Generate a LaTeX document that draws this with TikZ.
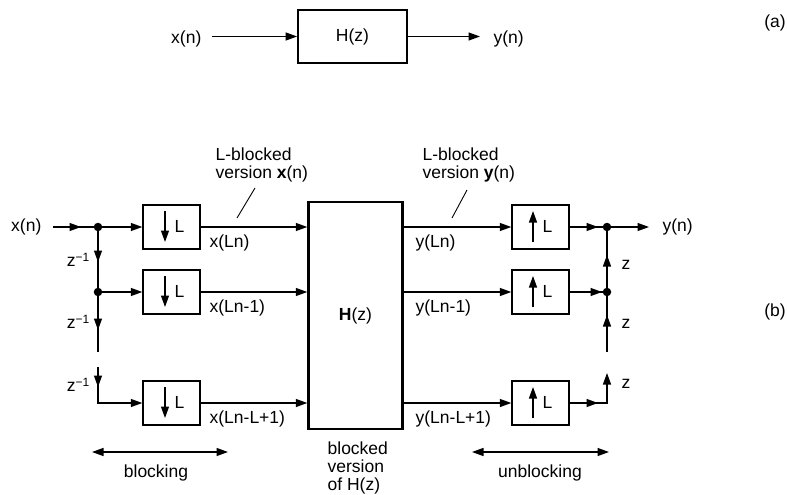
\documentclass[tikz,border=0pt]{standalone}
\usepackage{fontspec}
\setmainfont{Liberation Sans}
\usetikzlibrary{arrows.meta,calc}
\newcommand\zinvlbl{z\raisebox{5.5pt}{\fontsize{12}{12}\selectfont −1}}
\begin{document}
\begin{tikzpicture}[x=1pt,y=-1pt,font=\fontsize{17.5}{18}\selectfont,line width=1.3pt,
  arr/.style={-{Triangle[length=11.5pt,width=8pt]}},
  darr/.style={{Triangle[length=11.5pt,width=8pt]}-{Triangle[length=11.5pt,width=8pt]}},
  txt/.style={inner sep=0pt},
  blkbox/.style={draw,line width=1.4pt,minimum width=57pt,minimum height=44pt,inner sep=0pt},
  dot/.style={circle,fill,inner sep=0pt,minimum size=8.5pt}]
\useasboundingbox (0,0) rectangle (787,495);

% ---------- (a) ----------
\node[draw,line width=1.8pt,minimum width=109pt,minimum height=53pt,inner sep=0pt] (Ha) at (352.5,36.5) {H(z)};
\node[txt,anchor=east] (xa) at (202,38.5) {x(n)};
\node[txt,anchor=west] (ya) at (493,38.5) {y(n)};
\coordinate (xas) at (212,36.5);
\coordinate (yae) at (480,36.5);
\draw[arr] (xas) -- (Ha.west);
\draw[arr] (Ha.east) -- (yae);
\node[txt] (la) at (775,23) {(a)};

% ---------- (b) left ----------
\node[txt,anchor=east] (xb) at (42,227) {x(n)};
\node[dot] (d1) at (98,227) {};
\node[dot] (d2) at (98,292) {};
\coordinate (l2) at (98,352);
\coordinate (l3) at (98,367);
\coordinate (c3) at (98,403);
\node[blkbox] (D1) at (171.5,227) {};
\node[blkbox] (D2) at (171.5,292) {};
\node[blkbox] (D3) at (171.5,403) {};

\draw ([xshift=11pt]xb.east) -- (d1.center);
\draw[arr] ([xshift=11pt]xb.east) -- ([xshift=-17pt]d1.center);
\draw[arr] (d1.center) -- (D1.west);
\draw[arr] (d2.center) -- (D2.west);
\draw (d1.center) -- (l2);
\draw[arr] (d1.center) -- ($(d1.center)+(0,35)$);
\draw[arr] (d2.center) -- ($(d2.center)+(0,38)$);
\draw[arr] (l3) -- (c3) -- (D3.west);
\draw[arr] (l3) -- ($(l3)+(0,20)$);

\node[txt] (zi1) at (78,260) {\zinvlbl};
\node[txt] (zi2) at (78,322) {\zinvlbl};
\node[txt] (zi3) at (78,385) {\zinvlbl};

\foreach \b in {D1,D2,D3}{
  \draw[arr] ($(\b.center)+(-6.5,-16)$) -- ($(\b.center)+(-6.5,15)$);
  \node[txt] (\b L) at ($(\b.center)+(8,-1)$) {L};
}

% ---------- big box ----------
\node[draw,line width=2.4pt,minimum width=94pt,minimum height=227pt,inner sep=0pt] (B) at (355.5,315.5) {\textbf{H}(z)};

\draw[arr] (D1.east) -- (B.west |- D1.east);
\draw[arr] (D2.east) -- (B.west |- D2.east);
\draw[arr] (D3.east) -- (B.west |- D3.east);
\node[txt,anchor=north west] (lx1) at (209,234) {x(Ln)};
\node[txt,anchor=north west] (lx2) at (209,299) {x(Ln-1)};
\node[txt,anchor=north west] (lx3) at (209,410) {x(Ln-L+1)};

% ---------- (b) right ----------
\node[blkbox] (U1) at (540.5,227) {};
\node[blkbox] (U2) at (540.5,292) {};
\node[blkbox] (U3) at (540.5,403) {};
\draw[arr] (B.east |- U1.west) -- (U1.west);
\draw[arr] (B.east |- U2.west) -- (U2.west);
\draw[arr] (B.east |- U3.west) -- (U3.west);
\node[txt,anchor=north west] (ly1) at (415,234) {y(Ln)};
\node[txt,anchor=north west] (ly2) at (415,299) {y(Ln-1)};
\node[txt,anchor=north west] (ly3) at (415,410) {y(Ln-L+1)};

\foreach \b in {U1,U2,U3}{
  \draw[arr] ($(\b.center)+(-7.5,15)$) -- ($(\b.center)+(-7.5,-16)$);
  \node[txt] (\b L) at ($(\b.center)+(7,-1)$) {L};
}

\node[dot] (e1) at (607,227) {};
\node[dot] (e2) at (607,292) {};
\coordinate (t2) at (607,352);
\coordinate (c4) at (607,403);
\coordinate (t3) at (607,373);
\node[txt,anchor=west] (yb) at (662,227) {y(n)};

\draw (U1.east) -- (e1.center);
\draw[arr] (U1.east) -- ([xshift=-9pt]e1.center);
\draw (U2.east) -- (e2.center);
\draw[arr] (U2.east) -- ([xshift=-5pt]e2.center);
\draw[arr] (e1.center) -- ([xshift=-13pt]yb.west);
\draw (e2.center) -- (e1.center);
\draw[arr] (e2.center) -- ($(e1.center)+(0,28)$);
\draw (t2) -- (e2.center);
\draw[arr] (t2) -- ($(e2.center)+(0,23)$);
\draw[arr] (U3.east) -- (c4) -- (t3);
\draw[arr] (U3.east) -- ([xshift=-9pt]c4);

\node[txt] (z1) at (626,265) {z};
\node[txt] (z2) at (626,324) {z};
\node[txt] (z3) at (626,384) {z};

% ---------- annotations ----------
\node[txt,anchor=north west,align=left] (ax) at (215,147) {L-blocked\\version \textbf{x}(n)};
\coordinate (ax1) at (255,188);
\coordinate (ax2) at (237,218);
\draw[line width=0.9pt] (ax1) -- (ax2);
\node[txt,anchor=north west,align=left] (ay) at (422,147) {L-blocked\\version \textbf{y}(n)};
\coordinate (ay1) at (467,190);
\coordinate (ay2) at (452,218);
\draw[line width=0.9pt] (ay1) -- (ay2);

\node[txt] (lb) at (775,312) {(b)};

% ---------- bottom ----------
\coordinate (bl1) at (92,452);
\coordinate (bl2) at (228,452);
\draw[darr] (bl1) -- (bl2);
\node[txt] (tblock) at (156,473) {blocking};
\coordinate (ub1) at (472,452);
\coordinate (ub2) at (609,452);
\draw[darr] (ub1) -- (ub2);
\node[txt] (tunblock) at (540,473) {unblocking};
\node[txt,anchor=north west,align=left] (bv) at (327,441) {blocked\\version\\of H(z)};
\end{tikzpicture}
\end{document}
